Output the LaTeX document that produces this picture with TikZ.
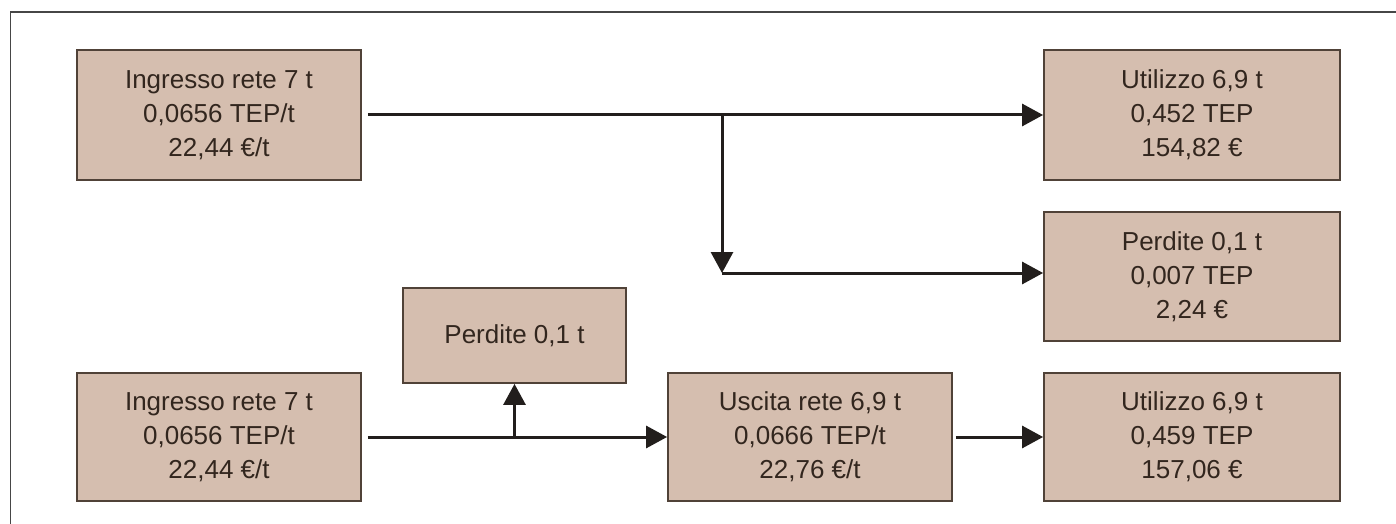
\documentclass[tikz,border=0pt]{standalone}
\usepackage{fontspec}
\setmainfont{Liberation Sans}
\usetikzlibrary{arrows.meta}
\definecolor{boxfill}{RGB}{213,190,175}
\definecolor{boxline}{RGB}{80,66,56}
\definecolor{txt}{RGB}{50,38,30}
\definecolor{arr}{RGB}{34,30,28}
\definecolor{frame}{RGB}{70,70,70}
\tikzset{
  fbox/.style={draw=boxline, line width=1.8pt, fill=boxfill, text=txt,
    align=center, inner sep=0pt, font=\fontsize{26pt}{34pt}\selectfont},
  flow/.style={draw=arr, line width=3pt, -{Triangle[length=21pt,width=22pt]}},
  flowline/.style={draw=arr, line width=3pt}
}
\begin{document}
\begin{tikzpicture}[x=1pt,y=-1pt]
\useasboundingbox (0,0) rectangle (1396,524);
\draw[frame, line width=1.8pt] (10.5,524) -- (10.5,12) -- (1396,12);

\node[fbox, minimum width=284pt, minimum height=130pt] (inA) at (219,115)
  {Ingresso rete 7 t\\0,0656 TEP/t\\22,44 €/t};
\node[fbox, minimum width=296pt, minimum height=130pt] (use1) at (1192,115)
  {Utilizzo 6,9 t\\0,452 TEP\\154,82 €};
\node[fbox, minimum width=296pt, minimum height=129pt] (loss1) at (1192,276.5)
  {Perdite 0,1 t\\0,007 TEP\\2,24 €};
\node[fbox, minimum width=223pt, minimum height=95pt] (loss2) at (514.5,335.5)
  {Perdite 0,1 t};
\node[fbox, minimum width=284pt, minimum height=128pt] (inB) at (219,437)
  {Ingresso rete 7 t\\0,0656 TEP/t\\22,44 €/t};
\node[fbox, minimum width=284pt, minimum height=128pt] (out) at (810,437)
  {Uscita rete 6,9 t\\0,0666 TEP/t\\22,76 €/t};
\node[fbox, minimum width=296pt, minimum height=128pt] (use2) at (1192,437)
  {Utilizzo 6,9 t\\0,459 TEP\\157,06 €};

\coordinate (split) at (722,115);
\coordinate (join) at (722,273);
\coordinate (split2) at (514.5,437);

\draw[flow, shorten <=6pt] (inA.east) -- (use1.west);
\draw[flow] (split) -- (join);
\draw[flow] (join) -- (loss1.west |- join);
\draw[flow, shorten <=6pt] (inB.east) -- (out.west);
\draw[flow] (split2) -- (loss2.south);
\draw[flow, shorten <=3pt] (out.east) -- (use2.west);
\end{tikzpicture}
\end{document}
